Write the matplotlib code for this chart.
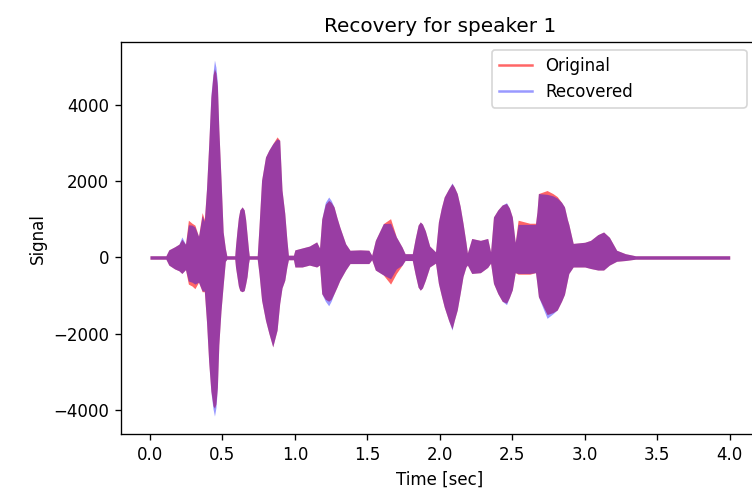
import numpy as np
import matplotlib
matplotlib.use("Agg")
import matplotlib.pyplot as plt
from matplotlib.lines import Line2D

# envelope of the two signals (time in sec, amplitude)
t = [0.00, 0.11, 0.13, 0.17, 0.20, 0.22, 0.245, 0.265, 0.29, 0.31, 0.335, 0.36, 0.375,
     0.39, 0.405, 0.42, 0.435, 0.445, 0.455, 0.465, 0.475, 0.49, 0.505, 0.52, 0.53,
     0.585, 0.59, 0.60, 0.61, 0.62, 0.636, 0.65, 0.66, 0.67, 0.68, 0.685,
     0.74, 0.752, 0.77, 0.797, 0.82, 0.847, 0.877, 0.895, 0.911, 0.93, 0.945, 0.955,
     0.99, 1.00, 1.05, 1.10, 1.15, 1.17, 1.185, 1.21, 1.233, 1.25, 1.27, 1.29, 1.31, 1.35, 1.38, 1.45, 1.51, 1.53,
     1.555, 1.61, 1.66, 1.70, 1.74, 1.76, 1.81, 1.83, 1.85, 1.865, 1.88, 1.90, 1.93, 1.97,
     1.99, 2.01, 2.03, 2.06, 2.084, 2.10, 2.12, 2.14, 2.16, 2.18, 2.19, 2.22, 2.28, 2.33, 2.35,
     2.37, 2.40, 2.43, 2.46, 2.48, 2.50, 2.52, 2.54, 2.62, 2.66, 2.67, 2.68, 2.74, 2.78, 2.81, 2.84, 2.86, 2.88, 2.89, 2.92,
     3.00, 3.04, 3.09, 3.13, 3.17, 3.22, 3.28, 3.35, 4.00]

orig_hi = [45, 45, 200, 280, 350, 480, 350, 980, 900, 850, 560, 1180, 1000,
           1800, 2950, 4200, 4800, 4960, 4850, 4500, 3390, 2070, 670, 240, 45,
           45, 300, 700, 1050, 1250, 1330, 1250, 1000, 600, 200, 45,
           45, 800, 2030, 2640, 2820, 2990, 3170, 3080, 1770, 1160, 450, 60,
           60, 200, 250, 300, 410, 250, 1010, 1400, 1500, 1450, 1330, 1050, 800, 360, 190, 200, 190, 60,
           450, 890, 1020, 540, 270, 100, 100, 500, 850, 935, 880, 700, 300, 150,
           935, 1300, 1590, 1800, 1940, 1850, 1680, 1350, 900, 400, 120, 500, 450, 500, 150,
           1065, 1250, 1380, 1420, 1300, 1065, 400, 980, 900, 900, 1200, 1680, 1760, 1680, 1600, 1450, 1330, 1000, 870, 370,
           400, 450, 600, 670, 530, 190, 100, 45, 45]
orig_lo = [-45, -45, -200, -300, -350, -420, -320, -700, -750, -820, -650, -900, -900,
           -1690, -2740, -3500, -3900, -3960, -3850, -3400, -2300, -1400, -730, -100, -45,
           -45, -250, -500, -750, -870, -900, -870, -700, -500, -150, -45,
           -45, -420, -1120, -1650, -1990, -2350, -1910, -1210, -800, -600, -240, -60,
           -60, -250, -250, -200, -250, -200, -950, -1100, -1150, -1100, -950, -780, -600, -330, -160, -160, -160, -60,
           -330, -460, -700, -420, -200, -80, -80, -450, -780, -860, -800, -600, -250, -150,
           -680, -1000, -1300, -1650, -1880, -1650, -1380, -950, -500, -250, -200, -420, -400, -260, -150,
           -680, -950, -1150, -1200, -1050, -850, -400, -440, -440, -400, -700, -1030, -1500, -1450, -1380, -1150, -970, -600, -420, -250,
           -250, -290, -330, -330, -200, -100, -80, -45, -45]

rec_hi = [45, 45, 200, 280, 350, 540, 350, 860, 850, 800, 560, 1100, 950,
          1810, 2950, 4260, 4850, 5190, 5000, 4600, 3390, 2070, 670, 240, 45,
          45, 300, 700, 1050, 1250, 1330, 1250, 1000, 600, 200, 45,
          45, 800, 2030, 2640, 2820, 2990, 3120, 3080, 1770, 1160, 450, 60,
          60, 200, 250, 300, 410, 250, 1010, 1450, 1590, 1500, 1330, 1050, 800, 360, 190, 200, 190, 60,
          450, 890, 900, 540, 270, 100, 100, 500, 850, 935, 880, 700, 300, 150,
          935, 1300, 1590, 1800, 1960, 1850, 1680, 1350, 900, 400, 120, 500, 450, 500, 150,
          1065, 1250, 1380, 1440, 1300, 1065, 400, 870, 870, 870, 1200, 1680, 1660, 1620, 1560, 1450, 1330, 1000, 870, 370,
          400, 450, 600, 670, 530, 190, 100, 45, 45]
rec_lo = [-45, -45, -200, -300, -350, -420, -320, -620, -650, -700, -650, -880, -880,
          -1690, -2740, -3530, -3980, -4170, -3950, -3450, -2300, -1400, -730, -100, -45,
          -45, -250, -500, -750, -870, -900, -870, -700, -500, -150, -45,
          -45, -420, -1120, -1650, -1990, -2350, -1910, -1210, -800, -600, -240, -60,
          -60, -250, -250, -200, -250, -200, -950, -1150, -1270, -1150, -950, -780, -600, -330, -160, -160, -160, -60,
          -330, -460, -560, -300, -200, -80, -80, -450, -780, -860, -800, -600, -250, -150,
          -680, -1000, -1300, -1650, -1910, -1650, -1380, -950, -500, -250, -200, -420, -400, -260, -150,
          -680, -950, -1150, -1240, -1050, -850, -400, -420, -420, -400, -700, -1030, -1600, -1480, -1380, -1150, -970, -600, -420, -250,
          -250, -290, -330, -330, -200, -100, -80, -45, -45]

fig = plt.figure(figsize=(752 / 120, 496 / 120), dpi=120)
ax = fig.add_axes([0.1609, 0.125, 0.848, 0.790])

ax.fill_between(t, orig_lo, orig_hi, color='r', alpha=0.6, lw=0)
ax.fill_between(t, rec_lo, rec_hi, color='b', alpha=0.4, lw=0)

ax.set_xlim(-0.2, 4.2)
ax.set_ylim(-4640, 5660)
ax.set_yticks([-4000, -2000, 0, 2000, 4000])
ax.set_xlabel('Time [sec]')
ax.set_ylabel('Signal')
ax.set_title('Recovery for speaker 1')

handles = [Line2D([], [], color='r', alpha=0.6, lw=1.5),
           Line2D([], [], color='b', alpha=0.4, lw=1.5)]
ax.legend(handles, ['Original', 'Recovered'], loc='upper left', mode='expand',
          bbox_to_anchor=(0.582, 0.0, 0.399, 0.98), borderaxespad=0)

fig.savefig('out.png', dpi=120)
